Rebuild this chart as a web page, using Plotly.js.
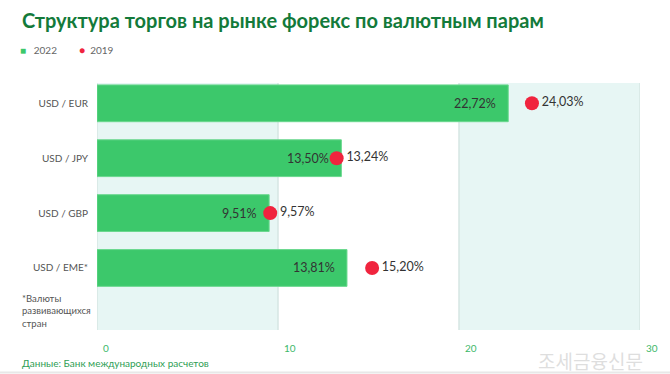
<!DOCTYPE html>
<html>
<head>
<meta charset="utf-8">
<script src="https://cdn.plot.ly/plotly-3.0.1.min.js"></script>
<style>html,body{margin:0;padding:0;background:#fff;}#chart{width:670px;height:374px;}</style>
</head>
<body>
<div id="chart"></div>
<script>
const categories = ["USD / EUR", "USD / JPY", "USD / GBP", "USD / EME*"];
const values2022 = [22.72, 13.50, 9.51, 13.81];
const values2019 = [24.03, 13.24, 9.57, 15.20];
const xTicks = [0, 10, 20, 30];
const bandStarts = [0, 20];
const bandWidth = 10;

const fmt = v => v.toFixed(2).replace('.', ',') + '%';
const idx = categories.map((c, i) => i);
const FONT = 'Lato, "Noto Sans", sans-serif';

const traces = [
  {
    type: 'bar', orientation: 'h', name: '2022',
    x: values2022, y: idx, width: 0.67,
    marker: {color: '#3cc86b', line: {color: '#6ad88e', width: 1}},
    hoverinfo: 'skip', showlegend: false
  },
  {
    type: 'scatter', mode: 'markers+text', name: '2019',
    x: values2019, y: idx,
    marker: {color: '#f0243e', size: 14},
    text: values2019.map(fmt), textposition: 'middle right',
    textfont: {family: FONT, size: 12.5, color: '#333333'},
    cliponaxis: false, hoverinfo: 'skip', showlegend: false
  }
];

const shapes = bandStarts.map(s => ({
  type: 'rect', xref: 'x', yref: 'paper', x0: s, x1: s + bandWidth, y0: 0, y1: 1,
  fillcolor: '#e7f6f4', line: {width: 0}, layer: 'below'
})).concat(xTicks.map(t => ({
  type: 'line', xref: 'x', yref: 'paper', x0: t, x1: t, y0: 0, y1: 1,
  line: {color: '#d6e6e3', width: 1.5}, layer: 'below'
}))).concat([{
  type: 'line', xref: 'paper', yref: 'paper', x0: -0.2, x1: 1.1, y0: -0.172, y1: -0.172,
  line: {color: '#e8e8e8', width: 2}
}]);

const annotations = [
  {xref: 'paper', yref: 'paper', x: -0.142, y: 1.255, xanchor: 'left', yanchor: 'middle',
   text: '<b>Структура торгов на рынке форекс по валютным парам</b>', showarrow: false,
   font: {family: FONT, size: 20, color: '#137a3a'}},
  {xref: 'paper', yref: 'paper', x: -0.145, y: 1.134, xanchor: 'left', yanchor: 'middle',
   text: '<span style="color:#3cc86b">■</span>   2022', showarrow: false,
   font: {family: FONT, size: 10, color: '#666666'}},
  {xref: 'paper', yref: 'paper', x: -0.037, y: 1.134, xanchor: 'left', yanchor: 'middle',
   text: '<span style="color:#f0243e">●</span>  2019', showarrow: false,
   font: {family: FONT, size: 10, color: '#666666'}},
  {xref: 'paper', yref: 'paper', x: -0.142, y: -0.135, xanchor: 'left', yanchor: 'middle',
   text: 'Данные: Банк международных расчетов', showarrow: false,
   font: {family: FONT, size: 10, color: '#2e9e55'}},
  {xref: 'paper', yref: 'y', x: -0.142, y: 3.78, xanchor: 'left', yanchor: 'middle', align: 'left',
   text: '*Валюты<br>развивающихся<br>стран', showarrow: false,
   font: {family: FONT, size: 9.5, color: '#555555'}},
  {xref: 'paper', yref: 'paper', x: 1.01, y: -0.125, xanchor: 'right', yanchor: 'middle',
   text: '조세금융신문', showarrow: false,
   font: {family: '"Noto Sans CJK KR", sans-serif', size: 19, color: 'rgba(190,190,190,0.5)'}}
].concat(xTicks.map(t => ({
  xref: 'x', yref: 'paper', x: t, y: -0.04, xanchor: 'left', yanchor: 'top', xshift: 4,
  text: String(t), showarrow: false, font: {family: FONT, size: 10, color: '#3cb86a'}
}))).concat(values2022.map((v, i) => ({
  xref: 'x', yref: 'y', x: v, y: i, xanchor: 'right', yanchor: 'middle', xshift: -10,
  text: fmt(v), showarrow: false, font: {family: FONT, size: 12.5, color: '#333333'}
})));

const layout = {
  width: 670, height: 374,
  margin: {l: 97, r: 30, t: 83, b: 44, pad: 0},
  paper_bgcolor: '#ffffff', plot_bgcolor: '#ffffff',
  showlegend: false,
  xaxis: {range: [0, 30], showgrid: false, zeroline: false, showticklabels: false, ticks: '', fixedrange: true},
  yaxis: {range: [4.13, -0.37], tickvals: idx, ticktext: categories, showgrid: false, zeroline: false,
          ticks: '', ticklabelstandoff: 8, tickfont: {family: FONT, size: 10, color: '#555555'}, fixedrange: true},
  shapes: shapes, annotations: annotations, bargap: 0.33
};

Plotly.newPlot('chart', traces, layout, {staticPlot: true, displayModeBar: false});
</script>
</body>
</html>
